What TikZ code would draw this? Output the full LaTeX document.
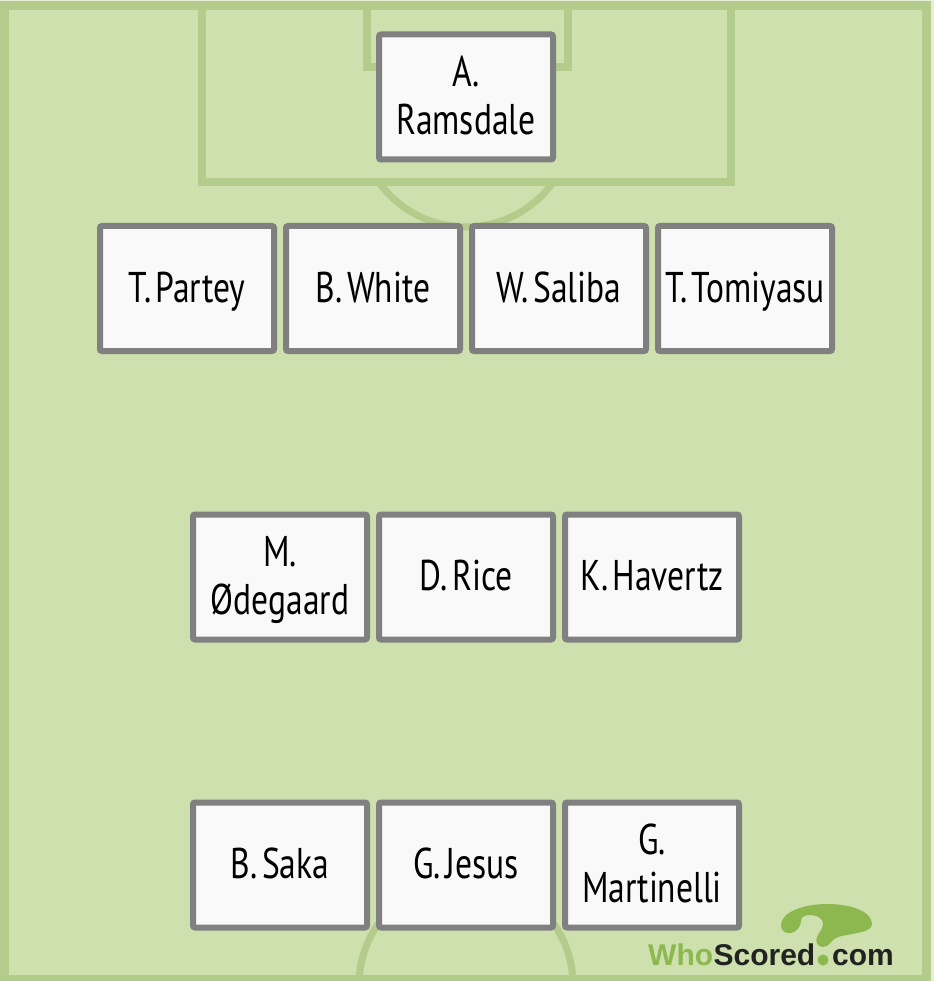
\documentclass[tikz,border=0pt]{standalone}
\usepackage{fontspec}
\setmainfont[FakeStretch=0.78,WordSpace=0.5]{PT Sans}
\newfontfamily\logofont{Liberation Sans}
\definecolor{grass}{HTML}{CDE0AE}
\definecolor{pline}{HTML}{B3CB8B}
\definecolor{paleedge}{HTML}{E6EFD5}
\definecolor{boxedge}{HTML}{808080}
\definecolor{boxfill}{HTML}{F9F9F9}
\definecolor{logogreen}{HTML}{8DB84F}
\definecolor{logodark}{HTML}{222222}
\newcommand{\plstrut}{\vrule width 0pt height 37.5pt depth 10.5pt\relax}
\tikzset{
  pitchline/.style={draw=pline,line width=8pt},
  player/.style={draw=boxedge,fill=boxfill,line width=6pt,rounded corners=2pt,minimum width=174pt,minimum height=125pt,inner sep=0pt,align=center,text=black,font=\fontsize{43}{48}\selectfont},
  logotext/.style={inner sep=0pt,font=\logofont\bfseries\fontsize{30}{30}\selectfont},
}
\begin{document}
\begin{tikzpicture}[x=1pt,y=-1pt]
\useasboundingbox (0,0) rectangle (934,981);
\fill[paleedge] (0,0) rectangle (934,981);
\fill[grass] (0,1) rectangle (931,981);
% pitch markings
\draw[pitchline,line width=9pt] (4.5,5.5) rectangle (926.5,979);
\draw[pitchline] (201.5,6.5) -- (201.5,182.5) -- (730.5,182.5) -- (730.5,6.5);
\draw[pitchline] (367,6.5) -- (367,67) -- (568,67) -- (568,6.5);
\begin{scope}
\clip (300,186) rectangle (640,240);
\draw[pitchline,line width=7pt] (466,120) circle[radius=107];
\end{scope}
\begin{scope}
\clip (300,850) rectangle (640,975);
\draw[pitchline,line width=7pt] (466,985) circle[radius=107];
\end{scope}
% players
\node[player] (ramsdale) at (466,97) {\plstrut A.\\\plstrut Ramsdale};
\node[player] (partey) at (187,288.5) {\plstrut T. Partey};
\node[player] (white) at (373,288.5) {\plstrut B. White};
\node[player] (saliba) at (559,288.5) {\plstrut W. Saliba};
\node[player] (tomiyasu) at (745,288.5) {\plstrut T. Tomiyasu};
\node[player] (odegaard) at (280,577) {\plstrut M.\\\plstrut Ødegaard};
\node[player] (rice) at (466,577) {\plstrut D. Rice};
\node[player] (havertz) at (652,577) {\plstrut K. Havertz};
\node[player] (saka) at (280,865) {\plstrut B. Saka};
\node[player] (jesus) at (466,865) {\plstrut G. Jesus};
\node[player] (martinelli) at (652,865) {\plstrut G.\\\plstrut Martinelli};
% logo
\fill[logogreen] (781,925) .. controls (781,912) and (804,904) .. (827,904)
  .. controls (852,904) and (872,912) .. (872,924)
  .. controls (872,933) and (852,933) .. (838,937)
  .. controls (831,939) and (830,947) .. (823,947)
  .. controls (817,947) and (815,941) .. (817,937)
  .. controls (819,932) and (823,929) .. (823,924)
  .. controls (823,917) and (815,915) .. (810,915)
  .. controls (805,915) and (801,917) .. (801,921)
  .. controls (801,926) and (797,933) .. (789,933)
  .. controls (784,933) and (781,930) .. (781,925) -- cycle;
\node[logotext,text=logogreen,anchor=base west] (who) at (648,965) {Who};
\node[logotext,text=logodark,anchor=base west] (scored) at (who.base east) {Scored};
\fill[logogreen] (823,960) circle[radius=5.5];
\node[logotext,text=logodark,anchor=base west] (com) at (832,965) {com};
\end{tikzpicture}
\end{document}
